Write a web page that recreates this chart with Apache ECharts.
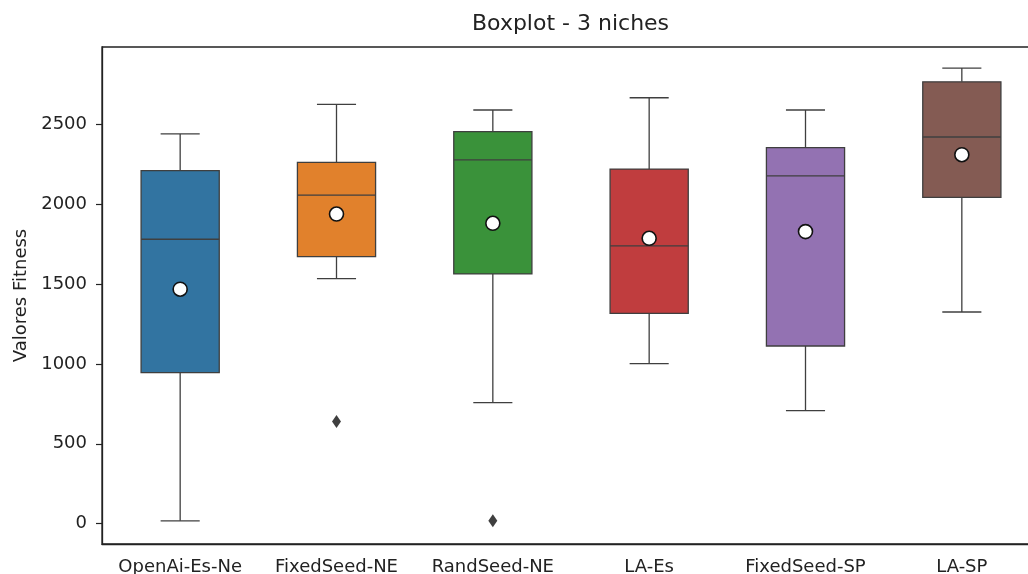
<!DOCTYPE html>
<html>
<head>
<meta charset="utf-8">
<script src="https://cdn.jsdelivr.net/npm/echarts@6/dist/echarts.min.js"></script>
<style>html,body{margin:0;padding:0;background:#fff}#c{width:1028px;height:574px}</style>
</head>
<body>
<div id="c"></div>
<script>
const categories = ['OpenAi-Es-Ne', 'FixedSeed-NE', 'RandSeed-NE', 'LA-Es', 'FixedSeed-SP', 'LA-SP'];
// [lower whisker, Q1, median, Q3, upper whisker]
const boxStats = [
  [17, 946, 1782, 2212, 2442],
  [1535, 1673, 2059, 2264, 2628],
  [758, 1565, 2279, 2456, 2592],
  [1003, 1318, 1740, 2222, 2669],
  [708, 1113, 2179, 2356, 2592],
  [1326, 2045, 2423, 2769, 2855]
];
const means = [1469, 1940, 1882, 1788, 1830, 2312];
// [category index, value]
const outliers = [[1, 639], [2, 17]];
const yTicks = [0, 500, 1000, 1500, 2000, 2500];
const boxColors = ['#3274a1', '#e1812c', '#3a923a', '#c03d3e', '#9372b2', '#845b53'];

const FONT = 'DejaVu Sans';
const LINE = '#3f3f3f';
const chart = echarts.init(document.getElementById('c'), null, {renderer: 'canvas'});

const boxData = boxStats.map((s, i) => [i].concat(s));

chart.setOption({
  animation: false,
  backgroundColor: '#fff',
  title: {
    text: 'Boxplot - 3 niches',
    left: 472, top: 13, padding: 0,
    textStyle: {fontFamily: FONT, fontSize: 22, fontWeight: 'normal', color: '#222'}
  },
  grid: {left: 102, right: -12, top: 47, bottom: 30, show: true, borderColor: '#222', borderWidth: 1.3,
    containLabel: false, outerBoundsMode: 'none'},
  xAxis: {
    type: 'category', data: categories, boundaryGap: true,
    axisLine: {onZero: false, lineStyle: {color: '#222', width: 1.3}},
    axisTick: {alignWithLabel: true, length: 6, lineStyle: {color: '#222', width: 1.2}},
    axisLabel: {fontFamily: FONT, fontSize: 18, color: '#222', margin: 14, interval: 0},
    splitLine: {show: false}
  },
  yAxis: {
    type: 'value', min: -128, max: 2987,
    name: 'Valores Fitness', nameLocation: 'middle', nameGap: 70,
    nameTextStyle: {fontFamily: FONT, fontSize: 18, color: '#222'},
    axisLine: {show: true, onZero: false, lineStyle: {color: '#222', width: 1.3}},
    axisTick: {show: true, length: 6, customValues: yTicks, lineStyle: {color: '#222', width: 1.2}},
    axisLabel: {fontFamily: FONT, fontSize: 18, color: '#222', margin: 15, customValues: yTicks,
      formatter: function (v) { return String(v); }},
    splitLine: {show: false}
  },
  series: [
    {
      type: 'custom',
      data: boxData,
      encode: {x: 0, y: [1, 2, 3, 4, 5]},
      z: 2,
      renderItem: function (params, api) {
        const idx = api.value(0);
        const band = api.size([1, 0])[0];
        const bw = band * 0.5, cw = band * 0.25;
        const pLo = api.coord([idx, api.value(1)]);
        const pQ1 = api.coord([idx, api.value(2)]);
        const pMed = api.coord([idx, api.value(3)]);
        const pQ3 = api.coord([idx, api.value(4)]);
        const pHi = api.coord([idx, api.value(5)]);
        const x = pQ1[0];
        const ls = {stroke: LINE, lineWidth: 1.3};
        return {
          type: 'group',
          children: [
            {type: 'line', shape: {x1: x, y1: pQ1[1], x2: x, y2: pLo[1]}, style: ls},
            {type: 'line', shape: {x1: x, y1: pQ3[1], x2: x, y2: pHi[1]}, style: ls},
            {type: 'line', shape: {x1: x - cw / 2, y1: pLo[1], x2: x + cw / 2, y2: pLo[1]}, style: ls},
            {type: 'line', shape: {x1: x - cw / 2, y1: pHi[1], x2: x + cw / 2, y2: pHi[1]}, style: ls},
            {type: 'rect', shape: {x: x - bw / 2, y: pQ3[1], width: bw, height: pQ1[1] - pQ3[1]},
              style: {fill: boxColors[idx], stroke: LINE, lineWidth: 1.3}},
            {type: 'line', shape: {x1: x - bw / 2, y1: pMed[1], x2: x + bw / 2, y2: pMed[1]}, style: ls}
          ]
        };
      }
    },
    {
      type: 'scatter',
      data: means.map((m, i) => [i, m]),
      symbol: 'circle', symbolSize: 14, z: 5,
      itemStyle: {color: '#fff', borderColor: '#111', borderWidth: 1.6, opacity: 1}
    },
    {
      type: 'scatter',
      data: outliers,
      symbol: 'diamond', symbolSize: [9, 13], z: 5,
      itemStyle: {color: LINE, opacity: 1}
    }
  ]
});
</script>
</body>
</html>
